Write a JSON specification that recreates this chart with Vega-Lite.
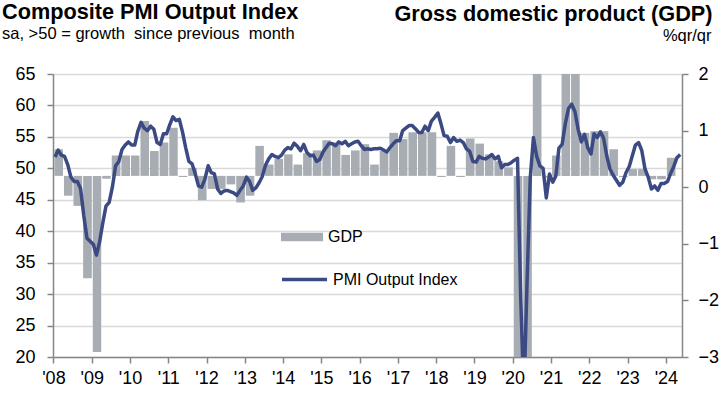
{
  "$schema": "https://vega.github.io/schema/vega-lite/v6.json",
  "width": 629,
  "height": 283,
  "autosize": {"type": "none"},
  "padding": {"left": 53, "top": 74, "right": 38, "bottom": 39},
  "background": "white",
  "config": {"font": "Liberation Sans", "view": {"stroke": null}},
  "title": {
    "text": "Composite PMI Output Index",
    "subtitle": "sa, >50 = growth\u00a0 since previous\u00a0 month",
    "anchor": "start",
    "frame": "group",
    "dx": -51,
    "offset": 0,
    "dy": 39,
    "font": "Liberation Sans",
    "fontSize": 21.7,
    "fontWeight": "bold",
    "color": "black",
    "subtitleFont": "Liberation Sans",
    "subtitleFontSize": 16.5,
    "subtitleColor": "black",
    "subtitlePadding": 2
  },
  "datasets": {
    "gdp": [
      {"q": "2008-01", "v": 0.67}, {"q": "2008-04", "v": -0.15}, {"q": "2008-07", "v": -0.33}, {"q": "2008-10", "v": -1.61},
      {"q": "2009-01", "v": -2.91}, {"q": "2009-04", "v": 0.15}, {"q": "2009-07", "v": 0.56}, {"q": "2009-10", "v": 0.56},
      {"q": "2010-01", "v": 0.56}, {"q": "2010-04", "v": 1.17}, {"q": "2010-07", "v": 0.64}, {"q": "2010-10", "v": 0.79},
      {"q": "2011-01", "v": 1.05}, {"q": "2011-04", "v": 0.18}, {"q": "2011-07", "v": 0.34}, {"q": "2011-10", "v": -0.23},
      {"q": "2012-01", "v": -0.03}, {"q": "2012-04", "v": -0.03}, {"q": "2012-07", "v": 0.05}, {"q": "2012-10", "v": -0.27},
      {"q": "2013-01", "v": -0.15}, {"q": "2013-04", "v": 0.73}, {"q": "2013-07", "v": 0.4}, {"q": "2013-10", "v": 0.5},
      {"q": "2014-01", "v": 0.58}, {"q": "2014-04", "v": 0.4}, {"q": "2014-07", "v": 0.6}, {"q": "2014-10", "v": 0.65},
      {"q": "2015-01", "v": 0.83}, {"q": "2015-04", "v": 0.79}, {"q": "2015-07", "v": 0.57}, {"q": "2015-10", "v": 0.65},
      {"q": "2016-01", "v": 0.76}, {"q": "2016-04", "v": 0.4}, {"q": "2016-07", "v": 0.64}, {"q": "2016-10", "v": 0.96},
      {"q": "2017-01", "v": 0.85}, {"q": "2017-04", "v": 0.97}, {"q": "2017-07", "v": 0.97}, {"q": "2017-10", "v": 0.97},
      {"q": "2018-01", "v": 0.18}, {"q": "2018-04", "v": 0.73}, {"q": "2018-07", "v": 0.18}, {"q": "2018-10", "v": 0.86},
      {"q": "2019-01", "v": 0.77}, {"q": "2019-04", "v": 0.58}, {"q": "2019-07", "v": 0.46}, {"q": "2019-10", "v": 0.35},
      {"q": "2020-01", "v": -3.3}, {"q": "2020-04", "v": -11.3}, {"q": "2020-07", "v": 12.2}, {"q": "2020-10", "v": 0.17},
      {"q": "2021-01", "v": 0.56}, {"q": "2021-04", "v": 2.4}, {"q": "2021-07", "v": 2.4}, {"q": "2021-10", "v": 0.96},
      {"q": "2022-01", "v": 0.99}, {"q": "2022-04", "v": 0.99}, {"q": "2022-07", "v": 0.67}, {"q": "2022-10", "v": 0.18},
      {"q": "2023-01", "v": 0.32}, {"q": "2023-04", "v": 0.32}, {"q": "2023-07", "v": 0.14}, {"q": "2023-10", "v": 0.14},
      {"q": "2024-01", "v": 0.52}
    ],
    "pmi": [
      {"m": "2008-01", "v": 51.8}, {"m": "2008-02", "v": 52.9}, {"m": "2008-03", "v": 52.1}, {"m": "2008-04", "v": 51.9}, {"m": "2008-05", "v": 50.6}, {"m": "2008-06", "v": 48.6},
      {"m": "2008-07", "v": 47.9}, {"m": "2008-08", "v": 47.9}, {"m": "2008-09", "v": 46.8}, {"m": "2008-10", "v": 42.5}, {"m": "2008-11", "v": 38.9}, {"m": "2008-12", "v": 38.4},
      {"m": "2009-01", "v": 37.9}, {"m": "2009-02", "v": 36.2}, {"m": "2009-03", "v": 38.3}, {"m": "2009-04", "v": 41.3}, {"m": "2009-05", "v": 44.0}, {"m": "2009-06", "v": 44.6},
      {"m": "2009-07", "v": 47.0}, {"m": "2009-08", "v": 50.4}, {"m": "2009-09", "v": 51.1}, {"m": "2009-10", "v": 53.0}, {"m": "2009-11", "v": 53.7}, {"m": "2009-12", "v": 54.2},
      {"m": "2010-01", "v": 53.7}, {"m": "2010-02", "v": 53.7}, {"m": "2010-03", "v": 55.9}, {"m": "2010-04", "v": 57.3}, {"m": "2010-05", "v": 56.4}, {"m": "2010-06", "v": 56.0},
      {"m": "2010-07", "v": 56.7}, {"m": "2010-08", "v": 56.2}, {"m": "2010-09", "v": 54.1}, {"m": "2010-10", "v": 53.8}, {"m": "2010-11", "v": 55.5}, {"m": "2010-12", "v": 55.5},
      {"m": "2011-01", "v": 57.0}, {"m": "2011-02", "v": 58.2}, {"m": "2011-03", "v": 57.6}, {"m": "2011-04", "v": 57.8}, {"m": "2011-05", "v": 55.8}, {"m": "2011-06", "v": 53.3},
      {"m": "2011-07", "v": 51.1}, {"m": "2011-08", "v": 50.7}, {"m": "2011-09", "v": 49.1}, {"m": "2011-10", "v": 47.2}, {"m": "2011-11", "v": 47.0}, {"m": "2011-12", "v": 48.3},
      {"m": "2012-01", "v": 50.4}, {"m": "2012-02", "v": 49.3}, {"m": "2012-03", "v": 49.1}, {"m": "2012-04", "v": 46.7}, {"m": "2012-05", "v": 46.0}, {"m": "2012-06", "v": 46.4},
      {"m": "2012-07", "v": 46.5}, {"m": "2012-08", "v": 46.3}, {"m": "2012-09", "v": 46.1}, {"m": "2012-10", "v": 45.7}, {"m": "2012-11", "v": 46.5}, {"m": "2012-12", "v": 47.2},
      {"m": "2013-01", "v": 48.6}, {"m": "2013-02", "v": 47.9}, {"m": "2013-03", "v": 46.5}, {"m": "2013-04", "v": 46.9}, {"m": "2013-05", "v": 47.7}, {"m": "2013-06", "v": 48.7},
      {"m": "2013-07", "v": 50.5}, {"m": "2013-08", "v": 51.5}, {"m": "2013-09", "v": 52.2}, {"m": "2013-10", "v": 51.9}, {"m": "2013-11", "v": 51.7}, {"m": "2013-12", "v": 52.1},
      {"m": "2014-01", "v": 52.9}, {"m": "2014-02", "v": 53.3}, {"m": "2014-03", "v": 53.1}, {"m": "2014-04", "v": 54.0}, {"m": "2014-05", "v": 53.5}, {"m": "2014-06", "v": 52.8},
      {"m": "2014-07", "v": 53.8}, {"m": "2014-08", "v": 52.5}, {"m": "2014-09", "v": 52.0}, {"m": "2014-10", "v": 52.1}, {"m": "2014-11", "v": 51.1}, {"m": "2014-12", "v": 51.4},
      {"m": "2015-01", "v": 52.6}, {"m": "2015-02", "v": 53.3}, {"m": "2015-03", "v": 54.0}, {"m": "2015-04", "v": 53.9}, {"m": "2015-05", "v": 53.6}, {"m": "2015-06", "v": 54.2},
      {"m": "2015-07", "v": 53.9}, {"m": "2015-08", "v": 54.3}, {"m": "2015-09", "v": 53.6}, {"m": "2015-10", "v": 53.9}, {"m": "2015-11", "v": 54.2}, {"m": "2015-12", "v": 54.3},
      {"m": "2016-01", "v": 53.6}, {"m": "2016-02", "v": 53.0}, {"m": "2016-03", "v": 53.1}, {"m": "2016-04", "v": 53.0}, {"m": "2016-05", "v": 53.1}, {"m": "2016-06", "v": 53.1},
      {"m": "2016-07", "v": 53.2}, {"m": "2016-08", "v": 52.9}, {"m": "2016-09", "v": 52.6}, {"m": "2016-10", "v": 53.3}, {"m": "2016-11", "v": 53.9}, {"m": "2016-12", "v": 54.4},
      {"m": "2017-01", "v": 54.4}, {"m": "2017-02", "v": 56.0}, {"m": "2017-03", "v": 56.4}, {"m": "2017-04", "v": 56.8}, {"m": "2017-05", "v": 56.8}, {"m": "2017-06", "v": 56.3},
      {"m": "2017-07", "v": 55.7}, {"m": "2017-08", "v": 55.7}, {"m": "2017-09", "v": 56.7}, {"m": "2017-10", "v": 56.0}, {"m": "2017-11", "v": 57.5}, {"m": "2017-12", "v": 58.1},
      {"m": "2018-01", "v": 58.8}, {"m": "2018-02", "v": 57.1}, {"m": "2018-03", "v": 55.2}, {"m": "2018-04", "v": 55.1}, {"m": "2018-05", "v": 54.1}, {"m": "2018-06", "v": 54.9},
      {"m": "2018-07", "v": 54.3}, {"m": "2018-08", "v": 54.5}, {"m": "2018-09", "v": 54.1}, {"m": "2018-10", "v": 53.1}, {"m": "2018-11", "v": 52.7}, {"m": "2018-12", "v": 51.1},
      {"m": "2019-01", "v": 51.0}, {"m": "2019-02", "v": 51.9}, {"m": "2019-03", "v": 51.6}, {"m": "2019-04", "v": 51.5}, {"m": "2019-05", "v": 51.8}, {"m": "2019-06", "v": 52.2},
      {"m": "2019-07", "v": 51.5}, {"m": "2019-08", "v": 51.9}, {"m": "2019-09", "v": 50.1}, {"m": "2019-10", "v": 50.6}, {"m": "2019-11", "v": 50.6}, {"m": "2019-12", "v": 50.9},
      {"m": "2020-01", "v": 51.3}, {"m": "2020-02", "v": 51.6}, {"m": "2020-03", "v": 29.7}, {"m": "2020-04", "v": 13.6}, {"m": "2020-05", "v": 31.9}, {"m": "2020-06", "v": 48.5},
      {"m": "2020-07", "v": 54.9}, {"m": "2020-08", "v": 51.9}, {"m": "2020-09", "v": 50.4}, {"m": "2020-10", "v": 50.0}, {"m": "2020-11", "v": 45.3}, {"m": "2020-12", "v": 49.1},
      {"m": "2021-01", "v": 47.8}, {"m": "2021-02", "v": 48.8}, {"m": "2021-03", "v": 53.2}, {"m": "2021-04", "v": 53.8}, {"m": "2021-05", "v": 57.1}, {"m": "2021-06", "v": 59.5},
      {"m": "2021-07", "v": 60.2}, {"m": "2021-08", "v": 59.0}, {"m": "2021-09", "v": 56.2}, {"m": "2021-10", "v": 54.2}, {"m": "2021-11", "v": 55.4}, {"m": "2021-12", "v": 53.3},
      {"m": "2022-01", "v": 52.3}, {"m": "2022-02", "v": 55.5}, {"m": "2022-03", "v": 54.9}, {"m": "2022-04", "v": 55.8}, {"m": "2022-05", "v": 54.8}, {"m": "2022-06", "v": 52.0},
      {"m": "2022-07", "v": 49.9}, {"m": "2022-08", "v": 48.9}, {"m": "2022-09", "v": 48.1}, {"m": "2022-10", "v": 47.3}, {"m": "2022-11", "v": 47.8}, {"m": "2022-12", "v": 49.3},
      {"m": "2023-01", "v": 50.3}, {"m": "2023-02", "v": 52.0}, {"m": "2023-03", "v": 53.7}, {"m": "2023-04", "v": 54.1}, {"m": "2023-05", "v": 52.8}, {"m": "2023-06", "v": 49.9},
      {"m": "2023-07", "v": 48.6}, {"m": "2023-08", "v": 46.7}, {"m": "2023-09", "v": 47.2}, {"m": "2023-10", "v": 46.5}, {"m": "2023-11", "v": 47.6}, {"m": "2023-12", "v": 47.6},
      {"m": "2024-01", "v": 47.9}, {"m": "2024-02", "v": 49.2}, {"m": "2024-03", "v": 50.3}, {"m": "2024-04", "v": 51.7}, {"m": "2024-05", "v": 52.2}
    ]
  },
  "layer": [
    {
      "data": {"name": "gdp"},
      "mark": {"type": "bar", "clip": true},
      "encoding": {
        "x": {
          "field": "q", "type": "temporal", "timeUnit": "yearquarter",
          "scale": {"domain": [{"year": 2007, "month": 12, "date": 28}, {"year": 2024, "month": 6, "date": 3}]},
          "axis": {
            "tickCount": {"interval": "year", "step": 1},
            "format": "'%y",
            "formatType": "time",
            "title": null,
            "grid": false,
            "labelFontSize": 18,
            "labelColor": "black",
            "labelPadding": 6,
            "labelFlush": false,
            "labelOverlap": false,
            "labelBound": false,
            "tickSize": 6,
            "tickWidth": 1.5,
            "tickColor": "#868686",
            "domainColor": "#868686",
            "domainWidth": 1.5
          }
        },
        "y": {
          "field": "v", "type": "quantitative",
          "scale": {"domain": [-3, 2], "nice": false},
          "axis": {
            "orient": "right",
            "values": [-3, -2, -1, 0, 1, 2],
            "grid": false,
            "labelFontSize": 18,
            "labelColor": "black",
            "labelPadding": 10,
            "tickSize": 6,
            "tickWidth": 1.5,
            "tickColor": "#868686",
            "domainColor": "#868686",
            "domainWidth": 1.5,
            "title": "Gross domestic product (GDP)",
            "titleAngle": 0,
            "titleX": 30,
            "titleY": -54,
            "titleAlign": "right",
            "titleBaseline": "alphabetic",
            "titleFontSize": 21.7,
            "titleFontWeight": "bold",
            "titleColor": "black"
          }
        },
        "y2": {"datum": 0.2},
        "fill": {
          "datum": "GDP",
          "scale": {"range": ["#A7ADB3"]},
          "legend": {
            "orient": "none", "legendX": 228, "legendY": 142, "title": null, "padding": 0,
            "symbolType": "M-1,-0.2H1V0.2H-1Z", "symbolSize": 1764, "symbolStrokeWidth": 0,
            "labelFontSize": 16, "labelColor": "black", "labelOffset": 5
          }
        }
      }
    },
    {
      "data": {"name": "pmi"},
      "mark": {"type": "line", "clip": true, "strokeWidth": 3.5, "strokeJoin": "round"},
      "encoding": {
        "x": {
          "field": "m", "type": "temporal", "timeUnit": "yearmonth", "bandPosition": 0.5,
          "axis": {
            "tickCount": {"interval": "year", "step": 1},
            "format": "'%y",
            "formatType": "time",
            "title": null,
            "grid": false,
            "labelFontSize": 18,
            "labelColor": "black",
            "labelPadding": 6,
            "labelFlush": false,
            "labelOverlap": false,
            "labelBound": false,
            "tickSize": 6,
            "tickWidth": 1.5,
            "tickColor": "#868686",
            "domainColor": "#868686",
            "domainWidth": 1.5
          }
        },
        "y": {
          "field": "v", "type": "quantitative",
          "scale": {"domain": [20, 65], "nice": false},
          "axis": {
            "orient": "left",
            "values": [20, 25, 30, 35, 40, 45, 50, 55, 60, 65],
            "grid": true,
            "gridColor": "#D9D9D9",
            "gridWidth": 1.5,
            "labelFontSize": 18,
            "labelColor": "black",
            "labelPadding": 12,
            "tickSize": 6,
            "tickWidth": 1.5,
            "tickColor": "#868686",
            "domainColor": "#868686",
            "domainWidth": 1.5,
            "title": "%qr/qr",
            "titleAngle": 0,
            "titleX": 658,
            "titleY": -34,
            "titleAlign": "right",
            "titleBaseline": "alphabetic",
            "titleFontSize": 16.5,
            "titleFontWeight": "normal",
            "titleColor": "black"
          }
        },
        "stroke": {
          "datum": "PMI Output Index",
          "scale": {"range": ["#3B4A82"]},
          "legend": {
            "orient": "none", "legendX": 227, "legendY": 181, "title": null, "padding": 0,
            "symbolType": "stroke", "symbolSize": 2025, "symbolStrokeWidth": 3.5,
            "labelFontSize": 16, "labelColor": "black", "labelOffset": 4
          }
        }
      }
    }
  ],
  "resolve": {"scale": {"y": "independent"}}
}
